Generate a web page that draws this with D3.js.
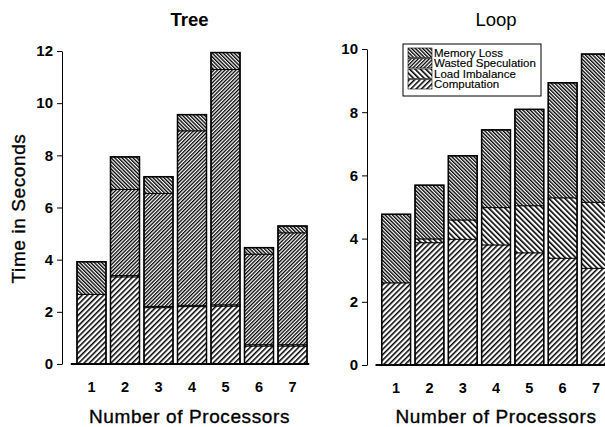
<!DOCTYPE html>
<html>
<head>
<meta charset="utf-8">
<script src="https://cdn.jsdelivr.net/npm/d3@7"></script>
<style>
  body { margin: 0; background: #fff; }
  svg { display: block; font-family: "Liberation Sans", Arial, Helvetica, sans-serif; }
</style>
</head>
<body>
<svg id="chart"></svg>
<script>
// values
const processors = [1, 2, 3, 4, 5, 6, 7]
const seriesKeys = ['computation', 'load', 'wasted', 'memory']
const legendLabels = ['Memory Loss', 'Wasted Speculation', 'Load Imbalance', 'Computation']
const legendKeys = ['memory', 'wasted', 'load', 'computation']

const treeComputation = [2.67, 3.34, 2.16, 2.20, 2.22, 0.69, 0.69]
const treeLoad = [0, 0.05, 0.05, 0.05, 0.05, 0.05, 0.05]
const treeWasted = [0, 3.30, 4.33, 6.69, 9.02, 3.47, 4.29]
const treeMemory = [1.25, 1.25, 0.64, 0.62, 0.65, 0.25, 0.26]
const treeTicks = [0, 2, 4, 6, 8, 10, 12]

const loopComputation = [2.60, 3.87, 3.98, 3.80, 3.55, 3.38, 3.06]
const loopLoad = [0, 0.12, 0.61, 1.18, 1.49, 1.91, 2.09]
const loopWasted = [0, 0, 0, 0, 0, 0, 0]
const loopMemory = [2.17, 1.70, 2.03, 2.46, 3.05, 3.64, 4.69]
const loopTicks = [0, 2, 4, 6, 8, 10]

const fullWidth = 605
const fullHeight = 427

const svg = d3.select('#chart')
    .attr('width', fullWidth)
    .attr('height', fullHeight)

// hatch fills: angle, spacing, line width
const hatches = {
    computation: { angle: 45, step: 3.8, line: 1.5 },
    load: { angle: -45, step: 3.8, line: 1.6 },
    wasted: { angle: 45, step: 2.6, line: 1.3 },
    memory: { angle: -45, step: 2.6, line: 1.35 },
}

const defs = svg.append('defs')
Object.entries(hatches).forEach(([key, h]) => {
    const p = defs.append('pattern')
        .attr('id', 'hatch-' + key)
        .attr('patternUnits', 'userSpaceOnUse')
        .attr('width', h.step)
        .attr('height', 10)
        .attr('patternTransform', `rotate(${h.angle})`)
    p.append('rect').attr('width', h.step).attr('height', 10).attr('fill', '#fff')
    p.append('rect').attr('width', h.line).attr('height', 10).attr('fill', '#000')
})

function toRows(comp, load, wasted, memory) {
    return processors.map((p, i) => ({
        processors: p,
        computation: comp[i],
        load: load[i],
        wasted: wasted[i],
        memory: memory[i],
    }))
}

function drawPanel(opts) {
    const rows = toRows(...opts.values)
    const g = svg.append('g')

    const x = d3.scaleBand()
        .domain(processors)
        .range(opts.xRange)
        .paddingInner(0.134)
        .paddingOuter(0.067)

    const y = d3.scaleLinear()
        .domain([0, d3.max(opts.ticks)])
        .range(opts.yRange)

    const stack = d3.stack().keys(seriesKeys)(rows)

    const layer = g.selectAll('.layer')
        .data(stack)
        .enter()
        .append('g')
            .attr('class', d => 'layer ' + d.key)

    layer.selectAll('rect')
        .data(d => d.map(v => ({ key: d.key, v })))
        .enter()
        .append('rect')
            .attr('x', d => x(d.v.data.processors))
            .attr('width', x.bandwidth())
            .attr('y', d => y(d.v[1]))
            .attr('height', d => y(d.v[0]) - y(d.v[1]))
            .attr('fill', d => `url(#hatch-${d.key})`)
            .attr('stroke', '#000')
            .attr('stroke-width', d => (d.v[1] - d.v[0]) > 0 ? 0.9 : 0)

    // outline of each whole bar
    g.selectAll('.outline')
        .data(rows)
        .enter()
        .append('rect')
            .attr('class', 'outline')
            .attr('x', d => x(d.processors))
            .attr('width', x.bandwidth())
            .attr('y', d => y(d3.sum(seriesKeys, k => d[k])))
            .attr('height', d => y(0) - y(d3.sum(seriesKeys, k => d[k])))
            .attr('fill', 'none')
            .attr('stroke', '#000')
            .attr('stroke-width', 1.5)

    const yAxis = g.append('g')
        .attr('transform', `translate(${opts.axisX},0)`)
        .call(d3.axisLeft(y).tickValues(opts.ticks).tickSize(5).tickSizeOuter(0).tickPadding(4))
    yAxis.selectAll('text')
        .attr('font-size', 15)
        .attr('font-weight', 'bold')
        .attr('font-family', null)
        .attr('fill', '#000')
    yAxis.select('.domain').attr('stroke-width', 1)

    const xAxis = g.append('g')
        .attr('transform', `translate(0,${y(0)})`)
        .call(d3.axisBottom(x).tickSize(0).tickPadding(18))
    xAxis.selectAll('text')
        .attr('font-size', 14.5)
        .attr('font-weight', 'bold')
        .attr('font-family', null)
        .attr('fill', '#000')
    xAxis.select('.domain')
        .attr('stroke-width', 1.8)
        .attr('d', `M${opts.xRange[0] - 4},0H${opts.xRange[1]}`)

    g.append('text')
        .attr('x', opts.titleX)
        .attr('y', 26)
        .attr('text-anchor', 'middle')
        .attr('font-size', 18.5)
        .attr('font-weight', opts.titleWeight)
        .text(opts.title)

    g.append('text')
        .attr('x', opts.titleX)
        .attr('y', 423)
        .attr('text-anchor', 'middle')
        .attr('font-size', 19)
        .attr('letter-spacing', 0.6)
        .attr('stroke', '#000')
        .attr('stroke-width', 0.35)
        .text('Number of Processors')

    return { x, y }
}

drawPanel({
    title: 'Tree',
    titleWeight: 'bold',
    titleX: 189.5,
    values: [treeComputation, treeLoad, treeWasted, treeMemory],
    ticks: treeTicks,
    xRange: [74.75, 309.25],
    yRange: [364, 51],
    axisX: 62,
})

drawPanel({
    title: 'Loop',
    titleWeight: 'normal',
    titleX: 496,
    values: [loopComputation, loopLoad, loopWasted, loopMemory],
    ticks: loopTicks,
    xRange: [379.5, 612.6],
    yRange: [365, 49],
    axisX: 367,
})

svg.append('text')
    .attr('transform', 'translate(25,208.5) rotate(-90)')
    .attr('text-anchor', 'middle')
    .attr('font-size', 19)
    .attr('letter-spacing', 0.6)
    .attr('stroke', '#000')
    .attr('stroke-width', 0.35)
    .text('Time in Seconds')

// legend
const legend = svg.append('g').attr('transform', 'translate(403,44)')
legend.append('rect')
    .attr('width', 138)
    .attr('height', 52)
    .attr('fill', '#fff')
    .attr('stroke', '#000')
    .attr('stroke-width', 1)

const item = legend.selectAll('.item')
    .data(legendKeys)
    .enter()
    .append('g')
        .attr('class', 'item')
        .attr('transform', (d, i) => `translate(0,${4 + i * 10.5})`)

item.append('rect')
    .attr('x', 5)
    .attr('width', 24)
    .attr('height', 9.5)
    .attr('fill', d => `url(#hatch-${d})`)
    .attr('stroke', '#000')
    .attr('stroke-width', 0.6)

item.append('text')
    .attr('x', 31)
    .attr('y', 8.5)
    .attr('font-size', 11.5)
    .attr('stroke', '#000')
    .attr('stroke-width', 0.15)
    .text((d, i) => legendLabels[i])
</script>
</body>
</html>
